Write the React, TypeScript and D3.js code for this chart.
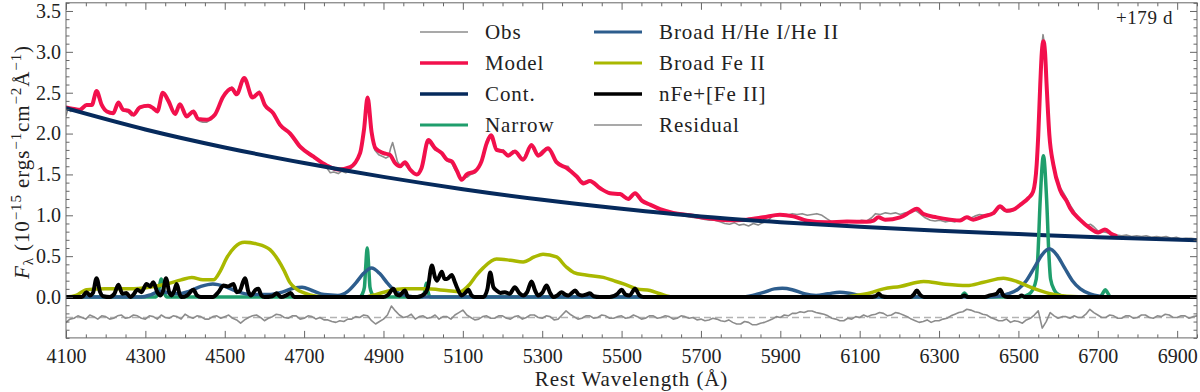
import React, { useEffect, useRef } from 'react';
import * as d3 from 'd3';

// [wavelength (A), flux (1e-15 erg/s/cm2/A)] pairs
const obs = [
  [4100, 2.22], [4105, 2.30], [4112, 2.27], [4120, 2.31], [4128, 2.28], [4135, 2.30], [4143, 2.33], [4152, 2.36], [4160, 2.34], [4168, 2.38],
  [4177, 2.50], [4185, 2.40], [4192, 2.33], [4200, 2.28], [4210, 2.26], [4219, 2.24], [4226, 2.31], [4232, 2.37], [4240, 2.30], [4248, 2.28],
  [4257, 2.26], [4265, 2.22], [4272, 2.24], [4280, 2.31], [4290, 2.33], [4300, 2.35], [4310, 2.33], [4320, 2.32], [4330, 2.26], [4337, 2.40],
  [4344, 2.49], [4352, 2.44], [4360, 2.36], [4368, 2.30], [4375, 2.25], [4382, 2.33], [4388, 2.36], [4396, 2.27], [4404, 2.20], [4412, 2.25],
  [4421, 2.28], [4428, 2.20], [4436, 2.15], [4445, 2.14], [4455, 2.14], [4465, 2.17], [4475, 2.23], [4486, 2.35], [4496, 2.45], [4505, 2.50],
  [4512, 2.54], [4518, 2.57], [4525, 2.49], [4532, 2.50], [4540, 2.62], [4549, 2.66], [4558, 2.58], [4565, 2.47], [4572, 2.45], [4580, 2.48],
  [4587, 2.52], [4594, 2.44], [4601, 2.36], [4610, 2.30], [4622, 2.24], [4630, 2.18], [4639, 2.09], [4648, 2.06], [4657, 2.03], [4665, 1.98],
  [4675, 1.92], [4690, 1.82], [4700, 1.79], [4712, 1.74], [4723, 1.71], [4735, 1.68], [4745, 1.62], [4757, 1.58], [4766, 1.52], [4775, 1.53],
  [4786, 1.51], [4795, 1.54], [4805, 1.52], [4816, 1.56], [4828, 1.62], [4841, 1.74], [4850, 2.00], [4856, 2.30], [4860, 2.45], [4864, 2.30],
  [4870, 1.98], [4878, 1.80], [4888, 1.74], [4898, 1.72], [4906, 1.70], [4913, 1.72], [4918, 1.82], [4923, 1.89], [4928, 1.80], [4935, 1.66],
  [4942, 1.61], [4950, 1.64], [4958, 1.60], [4967, 1.55], [4975, 1.51], [4984, 1.49], [4992, 1.54], [5000, 1.66], [5008, 1.85], [5013, 1.90],
  [5020, 1.86], [5030, 1.80], [5040, 1.78], [5047, 1.75], [5055, 1.69], [5062, 1.66], [5072, 1.64], [5080, 1.56], [5088, 1.50], [5097, 1.45],
  [5104, 1.46], [5112, 1.47], [5120, 1.50], [5131, 1.52], [5140, 1.58], [5147, 1.66], [5155, 1.80], [5162, 1.90], [5171, 1.97], [5178, 1.87],
  [5185, 1.79], [5194, 1.78], [5202, 1.80], [5210, 1.74], [5218, 1.75], [5226, 1.79], [5234, 1.76], [5243, 1.72], [5252, 1.69], [5262, 1.78],
  [5273, 1.85], [5282, 1.77], [5290, 1.74], [5300, 1.79], [5310, 1.82], [5320, 1.78], [5328, 1.72], [5336, 1.66], [5345, 1.63], [5355, 1.60],
  [5365, 1.60], [5375, 1.53], [5387, 1.48], [5396, 1.43], [5404, 1.41], [5412, 1.42], [5420, 1.42], [5433, 1.37], [5446, 1.34], [5458, 1.30],
  [5471, 1.28], [5484, 1.27], [5496, 1.25], [5507, 1.22], [5517, 1.21], [5526, 1.25], [5534, 1.26], [5543, 1.21], [5551, 1.17], [5560, 1.16],
  [5572, 1.12], [5585, 1.10], [5597, 1.07], [5610, 1.05], [5622, 1.04], [5635, 1.02], [5648, 1.01], [5660, 0.99], [5672, 0.98], [5685, 0.97],
  [5698, 0.96], [5710, 0.95], [5722, 0.94], [5735, 0.94], [5748, 0.92], [5760, 0.90], [5772, 0.89], [5784, 0.91], [5796, 0.88], [5808, 0.89],
  [5820, 0.87], [5832, 0.90], [5844, 0.88], [5856, 0.91], [5868, 0.93], [5880, 0.99], [5892, 1.00], [5905, 1.01], [5918, 1.00], [5930, 1.02],
  [5942, 1.01], [5955, 1.02], [5968, 1.00], [5980, 1.01], [5992, 1.02], [6005, 1.00], [6017, 0.96], [6030, 0.92], [6043, 0.91], [6056, 0.92],
  [6068, 0.91], [6080, 0.93], [6092, 0.92], [6105, 0.94], [6118, 0.93], [6130, 0.97], [6140, 1.02], [6152, 1.01], [6165, 1.03], [6178, 1.02],
  [6190, 1.03], [6202, 1.01], [6215, 1.03], [6227, 1.04], [6240, 1.06], [6252, 1.02], [6265, 0.97], [6278, 0.94], [6290, 0.93], [6302, 0.94],
  [6315, 0.92], [6328, 0.93], [6340, 0.92], [6353, 0.95], [6365, 0.98], [6378, 0.96], [6390, 0.99], [6402, 1.01], [6415, 1.00], [6428, 1.02],
  [6440, 1.02], [6452, 1.10], [6462, 1.06], [6472, 1.04], [6485, 1.05], [6496, 1.09], [6508, 1.13], [6520, 1.18], [6530, 1.24], [6538, 1.31],
  [6546, 1.63], [6550, 2.00], [6555, 2.65], [6559, 3.08], [6562, 3.21], [6566, 3.08], [6570, 2.65], [6577, 2.00], [6587, 1.65], [6596, 1.45],
  [6605, 1.34], [6614, 1.27], [6622, 1.20], [6632, 1.11], [6643, 1.03], [6655, 0.95], [6665, 0.90], [6675, 0.88], [6682, 0.89], [6690, 0.86],
  [6700, 0.81], [6712, 0.80], [6722, 0.79], [6735, 0.77], [6748, 0.76], [6760, 0.75], [6772, 0.76], [6785, 0.74], [6798, 0.75], [6810, 0.74],
  [6822, 0.75], [6835, 0.73], [6848, 0.74], [6860, 0.73], [6872, 0.74], [6885, 0.72], [6898, 0.73], [6910, 0.71], [6922, 0.72], [6935, 0.72],
  [6950, 0.71],
];

const model = [
  [4100, 2.32], [4120, 2.30], [4135, 2.29], [4152, 2.35], [4165, 2.35], [4177, 2.52], [4190, 2.35], [4203, 2.27], [4219, 2.25], [4232, 2.38],
  [4244, 2.29], [4257, 2.28], [4270, 2.23], [4286, 2.32], [4307, 2.34], [4320, 2.31], [4330, 2.27], [4344, 2.50], [4358, 2.40], [4375, 2.24],
  [4387, 2.36], [4404, 2.21], [4421, 2.27], [4433, 2.18], [4455, 2.17], [4475, 2.23], [4496, 2.45], [4518, 2.55], [4530, 2.48], [4549, 2.68],
  [4570, 2.44], [4587, 2.50], [4601, 2.35], [4622, 2.25], [4639, 2.11], [4665, 2.00], [4690, 1.84], [4723, 1.72], [4757, 1.61], [4786, 1.56],
  [4816, 1.59], [4841, 1.76], [4851, 2.05], [4860, 2.44], [4870, 2.02], [4880, 1.82], [4900, 1.76], [4916, 1.74], [4929, 1.64], [4942, 1.60],
  [4954, 1.65], [4967, 1.56], [4984, 1.50], [4996, 1.58], [5013, 1.92], [5030, 1.82], [5047, 1.76], [5060, 1.68], [5072, 1.66], [5085, 1.545],
  [5097, 1.435], [5110, 1.50], [5131, 1.54], [5147, 1.66], [5160, 1.88], [5171, 1.98], [5185, 1.80], [5202, 1.78], [5214, 1.73], [5231, 1.78],
  [5252, 1.68], [5273, 1.86], [5290, 1.73], [5315, 1.82], [5336, 1.65], [5361, 1.58], [5387, 1.475], [5404, 1.39], [5420, 1.42], [5446, 1.33],
  [5471, 1.27], [5496, 1.26], [5517, 1.20], [5534, 1.27], [5551, 1.18], [5572, 1.13], [5597, 1.075], [5630, 1.03], [5672, 1.00], [5714, 0.967],
  [5765, 0.94], [5815, 0.947], [5857, 0.975], [5899, 1.008], [5933, 0.987], [5967, 0.935], [6017, 0.914], [6068, 0.924], [6118, 0.92], [6135, 0.935],
  [6147, 0.975], [6164, 0.945], [6202, 0.975], [6227, 1.04], [6244, 1.08], [6261, 1.015], [6294, 0.975], [6328, 0.947], [6353, 0.935], [6370, 0.975],
  [6386, 0.947], [6412, 0.987], [6437, 1.027], [6454, 1.11], [6470, 1.056], [6487, 1.07], [6508, 1.14], [6525, 1.21], [6537, 1.29], [6546, 1.62],
  [6550, 1.98], [6555, 2.60], [6559, 3.00], [6563, 3.13], [6567, 3.00], [6571, 2.60], [6578, 1.98], [6588, 1.62], [6605, 1.31], [6622, 1.17],
  [6630, 1.09], [6655, 0.947], [6680, 0.845], [6701, 0.79], [6718, 0.825], [6735, 0.77], [6745, 0.75],
];

const cont = [
  [4100, 2.31], [4300, 2.05], [4500, 1.83], [4700, 1.64], [4900, 1.47], [5100, 1.32], [5300, 1.19], [5500, 1.08],
  [5700, 0.985], [5900, 0.915], [6100, 0.86], [6300, 0.81], [6500, 0.77], [6700, 0.73], [6950, 0.695],
];

const narrow = [
  [4100, 0], [4326, 0], [4333, 0.07], [4337, 0.17], [4340, 0.22], [4343, 0.17], [4347, 0.07], [4354, 0],
  [4840, 0], [4846, 0.03], [4852, 0.12], [4855, 0.35], [4859, 0.60], [4863, 0.35], [4866, 0.12], [4872, 0.03], [4878, 0],
  [4998, 0], [5004, 0.07], [5008, 0.17], [5012, 0.07], [5018, 0],
  [6355, 0], [6360, 0.03], [6364, 0.05], [6368, 0.03], [6373, 0],
  [6505, 0], [6525, 0.03], [6535, 0.08], [6545, 0.22], [6549, 0.5], [6555, 1.2], [6563, 1.73], [6571, 1.2], [6577, 0.5],
  [6581, 0.22], [6591, 0.08], [6601, 0.03], [6620, 0],
  [6706, 0], [6713, 0.05], [6719, 0.09], [6725, 0.05], [6732, 0], [6950, 0],
];

const broadH = [
  [4100, 0], [4290, 0], [4315, 0.03], [4337, 0.07], [4360, 0.05], [4385, 0.04], [4410, 0.07], [4440, 0.13], [4470, 0.16], [4500, 0.13],
  [4530, 0.07], [4570, 0.03], [4610, 0.03], [4645, 0.06], [4675, 0.11], [4695, 0.12], [4720, 0.08], [4750, 0.03], [4785, 0.02], [4810, 0.07],
  [4830, 0.17], [4850, 0.29], [4870, 0.355], [4890, 0.29], [4910, 0.17], [4930, 0.07], [4955, 0.02], [4990, 0],
  [5800, 0], [5830, 0.02], [5860, 0.06], [5885, 0.10], [5905, 0.107], [5930, 0.09], [5960, 0.04], [5990, 0.02], [6020, 0.04], [6050, 0.06],
  [6080, 0.04], [6110, 0.01], [6140, 0],
  [6420, 0], [6450, 0.01], [6475, 0.04], [6500, 0.10], [6520, 0.20], [6540, 0.36], [6560, 0.52], [6578, 0.59], [6596, 0.52], [6616, 0.36],
  [6636, 0.20], [6656, 0.10], [6680, 0.04], [6705, 0.01], [6730, 0], [6950, 0],
];

const broadFe = [
  [4100, 0], [4125, 0.02], [4152, 0.09], [4200, 0.10], [4260, 0.10], [4310, 0.12], [4354, 0.16], [4390, 0.21], [4417, 0.24], [4445, 0.21],
  [4471, 0.21], [4490, 0.33], [4504, 0.47], [4525, 0.61], [4550, 0.67], [4580, 0.65], [4614, 0.58], [4635, 0.45], [4650, 0.32], [4664, 0.18],
  [4680, 0.10], [4700, 0.05], [4730, 0.01], [4760, 0], [4850, 0], [4880, 0.03], [4910, 0.07], [4950, 0.10], [5005, 0.10], [5059, 0.08],
  [5093, 0.065], [5118, 0.16], [5135, 0.27], [5152, 0.36], [5185, 0.465], [5220, 0.45], [5252, 0.43], [5280, 0.49], [5302, 0.525], [5336, 0.49],
  [5360, 0.37], [5380, 0.30], [5410, 0.27], [5454, 0.24], [5480, 0.20], [5505, 0.16], [5538, 0.10], [5572, 0.08], [5597, 0.04], [5630, 0],
  [6060, 0], [6090, 0.02], [6126, 0.05], [6160, 0.10], [6202, 0.13], [6261, 0.19], [6311, 0.16], [6370, 0.14], [6412, 0.18], [6462, 0.23],
  [6496, 0.19], [6530, 0.12], [6580, 0.04], [6622, 0.01], [6680, 0], [6950, 0],
];

const nFe = [
  [4100, 0], [4140, 0], [4152, 0.06], [4160, 0.02], [4168, 0.05], [4177, 0.23], [4186, 0.06], [4194, 0.01], [4210, 0], [4222, 0.04],
  [4232, 0.15], [4242, 0.04], [4252, 0.05], [4262, 0], [4270, 0.03], [4280, 0.09], [4290, 0.06], [4303, 0.16], [4312, 0.13], [4320, 0.18],
  [4330, 0.06], [4338, 0.02], [4345, 0.08], [4352, 0.23], [4360, 0.06], [4366, 0.02], [4373, 0.08], [4379, 0.16], [4386, 0.04], [4391, 0],
  [4405, 0.02], [4421, 0.09], [4430, 0.02], [4440, 0], [4470, 0], [4484, 0.06], [4497, 0.14], [4508, 0.13], [4522, 0.16], [4530, 0.06],
  [4537, 0.07], [4551, 0.23], [4560, 0.06], [4566, 0.02], [4578, 0.09], [4585, 0.10], [4592, 0.02], [4600, 0], [4620, 0.01], [4631, 0.045],
  [4642, 0], [4655, 0.02], [4666, 0.05], [4675, 0], [4900, 0], [4910, 0.02], [4925, 0.10], [4933, 0.03], [4940, 0.02], [4954, 0.08],
  [4962, 0], [4985, 0], [5004, 0.04], [5012, 0.12], [5022, 0.385], [5030, 0.24], [5035, 0.20], [5047, 0.31], [5054, 0.22], [5060, 0.22],
  [5072, 0.27], [5080, 0.18], [5085, 0.12], [5097, 0.02], [5106, 0.05], [5114, 0.09], [5122, 0.02], [5130, 0], [5152, 0], [5162, 0.10],
  [5169, 0.30], [5177, 0.12], [5185, 0.08], [5195, 0.05], [5206, 0.06], [5218, 0.04], [5231, 0.12], [5242, 0.05], [5252, 0.02], [5262, 0.06],
  [5273, 0.19], [5282, 0.08], [5290, 0.02], [5300, 0.05], [5311, 0.14], [5320, 0.05], [5328, 0], [5338, 0.02], [5349, 0.06], [5358, 0.03],
  [5366, 0.02], [5375, 0.05], [5383, 0.08], [5392, 0.03], [5400, 0.02], [5410, 0.03], [5420, 0.045], [5430, 0.01], [5445, 0], [5470, 0],
  [5490, 0.04], [5500, 0.09], [5510, 0.03], [5520, 0.02], [5534, 0.10], [5545, 0.02], [5555, 0], [6125, 0], [6140, 0.01], [6148, 0.04],
  [6156, 0.01], [6170, 0], [6228, 0], [6236, 0.03], [6244, 0.08], [6252, 0.03], [6262, 0], [6355, 0], [6364, 0.02], [6372, 0],
  [6415, 0], [6428, 0.02], [6445, 0.04], [6454, 0.09], [6462, 0.02], [6472, 0], [6500, 0], [6508, 0.02], [6516, 0], [6950, 0],
];

// residual (obs - model), shifted down to sit under the spectrum; sampled every 10 A from 4100
const residStart = 4100;
const residStep = 10;
const residOffset = -0.25;
const resid = [
  -0.31, -0.27, -0.26, -0.23, -0.25, -0.27, -0.22, -0.24, -0.27, -0.23,
  -0.24, -0.27, -0.26, -0.23, -0.22, -0.26, -0.25, -0.22, -0.23, -0.26,
  -0.27, -0.23, -0.24, -0.27, -0.22, -0.25, -0.26, -0.23, -0.24, -0.27,
  -0.21, -0.24, -0.26, -0.23, -0.24, -0.27, -0.27, -0.24, -0.23, -0.26,
  -0.24, -0.22, -0.26, -0.28, -0.32, -0.28, -0.25, -0.23, -0.22, -0.25,
  -0.29, -0.26, -0.24, -0.21, -0.22, -0.25, -0.26, -0.23, -0.23, -0.27,
  -0.26, -0.23, -0.24, -0.27, -0.25, -0.28, -0.28, -0.30, -0.31, -0.29,
  -0.30, -0.27, -0.27, -0.24, -0.25, -0.22, -0.23, -0.29, -0.33, -0.30,
  -0.27, -0.22, -0.11, -0.17, -0.22, -0.25, -0.24, -0.21, -0.27, -0.24,
  -0.23, -0.26, -0.25, -0.22, -0.27, -0.24, -0.24, -0.27, -0.22, -0.19,
  -0.16, -0.22, -0.25, -0.28, -0.27, -0.24, -0.23, -0.26, -0.26, -0.23,
  -0.23, -0.26, -0.27, -0.24, -0.23, -0.27, -0.25, -0.22, -0.22, -0.25,
  -0.26, -0.23, -0.24, -0.28, -0.27, -0.22, -0.17, -0.21, -0.24, -0.27,
  -0.26, -0.23, -0.23, -0.26, -0.25, -0.22, -0.23, -0.26, -0.26, -0.24,
  -0.23, -0.26, -0.25, -0.22, -0.24, -0.27, -0.26, -0.23, -0.23, -0.26,
  -0.25, -0.23, -0.24, -0.27, -0.26, -0.23, -0.24, -0.26, -0.25, -0.28,
  -0.27, -0.29, -0.28, -0.26, -0.27, -0.29, -0.30, -0.28, -0.31, -0.33,
  -0.33, -0.30, -0.31, -0.34, -0.34, -0.32, -0.31, -0.29, -0.27, -0.24,
  -0.25, -0.22, -0.23, -0.20, -0.20, -0.18, -0.19, -0.17, -0.17, -0.19,
  -0.20, -0.21, -0.23, -0.26, -0.27, -0.29, -0.29, -0.26, -0.27, -0.24,
  -0.25, -0.22, -0.24, -0.22, -0.21, -0.19, -0.20, -0.23, -0.22, -0.19,
  -0.20, -0.22, -0.24, -0.27, -0.29, -0.31, -0.30, -0.28, -0.31, -0.29,
  -0.29, -0.27, -0.26, -0.23, -0.21, -0.19, -0.18, -0.15, -0.16, -0.18,
  -0.19, -0.21, -0.22, -0.25, -0.27, -0.29, -0.29, -0.27, -0.31, -0.29,
  -0.30, -0.32, -0.28, -0.26, -0.22, -0.17, -0.38, -0.30, -0.19, -0.23,
  -0.26, -0.24, -0.24, -0.26, -0.23, -0.25, -0.25, -0.21, -0.15, -0.19,
  -0.22, -0.25, -0.25, -0.22, -0.23, -0.26, -0.26, -0.23, -0.23, -0.26,
  -0.25, -0.22, -0.22, -0.25, -0.26, -0.23, -0.24, -0.21, -0.22, -0.25,
  -0.25, -0.23, -0.23, -0.26, -0.24, -0.23,
];

const xTicks = [4100, 4300, 4500, 4700, 4900, 5100, 5300, 5500, 5700, 5900, 6100, 6300, 6500, 6700, 6900];
const yTicks = [0, 0.5, 1.0, 1.5, 2.0, 2.5, 3.0, 3.5];

const legendLeft = ['Obs', 'Model', 'Cont.', 'Narrow'];
const legendRight = ['Broad H/He I/He II', 'Broad Fe II', 'nFe+[Fe II]', 'Residual'];

const styles = {
  'Obs': { color: '#8c8c8c', width: 1.6 },
  'Model': { color: '#f2104c', width: 4 },
  'Cont.': { color: '#062a5c', width: 4 },
  'Narrow': { color: '#1f9e6c', width: 3.5 },
  'Broad H/He I/He II': { color: '#2d5d8d', width: 3.5 },
  'Broad Fe II': { color: '#a9b800', width: 3.5 },
  'nFe+[Fe II]': { color: '#000000', width: 4 },
  'Residual': { color: '#8c8c8c', width: 1.6 },
};

const FONT = '"Liberation Serif", "DejaVu Serif", serif';

export default function App() {
  const svgRef = useRef(null);

  useEffect(() => {
    const width = 1200;
    const height = 392;
    const left = 66, right = 1197, top = 2.8, bottom = 337.9;
    const svg = d3.select(svgRef.current);
    svg.selectAll('*').remove();

    const x = d3.scaleLinear().domain([4100, 6950]).range([left, right]);
    const y = d3.scaleLinear().domain([-0.5, 3.6]).range([bottom, top]);

    svg.append('clipPath').attr('id', 'plotclip')
      .append('rect')
      .attr('x', left).attr('y', top)
      .attr('width', right - left).attr('height', bottom - top);

    const plot = svg.append('g').attr('clip-path', 'url(#plotclip)');

    const smooth = d3.line().x(d => x(d[0])).y(d => y(d[1])).curve(d3.curveMonotoneX);
    const jagged = d3.line().x(d => x(d[0])).y(d => y(d[1]));

    // residual zero line
    plot.append('line')
      .attr('x1', x(4100)).attr('x2', x(6950))
      .attr('y1', y(residOffset)).attr('y2', y(residOffset))
      .attr('stroke', '#b3b3b3').attr('stroke-width', 1.4)
      .attr('stroke-dasharray', '7,4');

    const residPts = resid.map((v, i) => [residStart + i * residStep, v]);

    const series = [
      ['Obs', obs, jagged],
      ['Model', model, smooth],
      ['Cont.', cont, smooth],
      ['Narrow', narrow, smooth],
      ['Broad H/He I/He II', broadH, smooth],
      ['Broad Fe II', broadFe, smooth],
      ['nFe+[Fe II]', nFe, smooth],
      ['Residual', residPts, jagged],
    ];

    series.forEach(([name, data, gen]) => {
      plot.append('path')
        .attr('d', gen(data))
        .attr('fill', 'none')
        .attr('stroke', styles[name].color)
        .attr('stroke-width', styles[name].width)
        .attr('stroke-linejoin', 'round')
        .attr('stroke-linecap', 'round');
    });

    // axes: inward ticks on all four sides
    const xMinor = d3.range(4100, 6951, 50).filter(v => !xTicks.includes(v));
    const yMinor = d3.range(-5, 37).map(v => v / 10).filter(v => !yTicks.includes(v));

    const tickColor = '#555';
    const styleAxis = g => {
      g.select('.domain').remove();
      g.selectAll('line').attr('stroke', tickColor).attr('stroke-width', 0.9);
      g.selectAll('text').attr('font-family', FONT).attr('font-size', 20).attr('fill', '#222');
    };

    svg.append('g').attr('transform', `translate(0,${bottom})`)
      .call(d3.axisBottom(x).tickValues(xTicks).tickSize(-7).tickPadding(11).tickFormat(d3.format('d')))
      .call(styleAxis);
    svg.append('g').attr('transform', `translate(0,${bottom})`)
      .call(d3.axisBottom(x).tickValues(xMinor).tickSize(-3.5).tickFormat(''))
      .call(styleAxis);
    svg.append('g').attr('transform', `translate(0,${top})`)
      .call(d3.axisTop(x).tickValues(xTicks).tickSize(-7).tickFormat(''))
      .call(styleAxis);
    svg.append('g').attr('transform', `translate(0,${top})`)
      .call(d3.axisTop(x).tickValues(xMinor).tickSize(-3.5).tickFormat(''))
      .call(styleAxis);

    svg.append('g').attr('transform', `translate(${left},0)`)
      .call(d3.axisLeft(y).tickValues(yTicks).tickSize(-7).tickPadding(5).tickFormat(d3.format('.1f')))
      .call(styleAxis);
    svg.append('g').attr('transform', `translate(${left},0)`)
      .call(d3.axisLeft(y).tickValues(yMinor).tickSize(-3.5).tickFormat(''))
      .call(styleAxis);
    svg.append('g').attr('transform', `translate(${right},0)`)
      .call(d3.axisRight(y).tickValues(yTicks).tickSize(-7).tickFormat(''))
      .call(styleAxis);
    svg.append('g').attr('transform', `translate(${right},0)`)
      .call(d3.axisRight(y).tickValues(yMinor).tickSize(-3.5).tickFormat(''))
      .call(styleAxis);

    svg.append('rect')
      .attr('x', left).attr('y', top)
      .attr('width', right - left).attr('height', bottom - top)
      .attr('fill', 'none').attr('stroke', '#666').attr('stroke-width', 1);

    // axis labels
    svg.append('text')
      .attr('x', (left + right) / 2).attr('y', 386)
      .attr('text-anchor', 'middle')
      .attr('font-family', FONT).attr('font-size', 21).attr('letter-spacing', 0.9).attr('fill', '#222')
      .text('Rest Wavelength (Å)');

    const yl = svg.append('text')
      .attr('transform', 'translate(29,162) rotate(-90)')
      .attr('text-anchor', 'middle')
      .attr('font-family', FONT).attr('font-size', 21).attr('letter-spacing', 0.9).attr('fill', '#222');
    const parts = [
      ['F', 0, 21, 'italic'], ['λ', 4, 15], [' (10', -4, 21], ['−15', -8, 15], [' ergs', 8, 21],
      ['−1', -8, 15], ['cm', 8, 21], ['−2', -8, 15], ['Å', 8, 21], ['−1', -8, 15], [')', 8, 21],
    ];
    parts.forEach(([t, dy, fs, st]) => {
      yl.append('tspan').attr('dy', dy).attr('font-size', fs)
        .attr('font-style', st || 'normal').text(t);
    });

    // legend
    const rowY = [32, 63, 94, 125];
    const cols = [
      { names: legendLeft, x0: 420, x1: 468, tx: 485 },
      { names: legendRight, x0: 594, x1: 642, tx: 659 },
    ];
    cols.forEach(c => {
      c.names.forEach((name, i) => {
        svg.append('line')
          .attr('x1', c.x0).attr('x2', c.x1)
          .attr('y1', rowY[i]).attr('y2', rowY[i])
          .attr('stroke', styles[name].color)
          .attr('stroke-width', Math.max(styles[name].width - 0.5, 1.5));
        svg.append('text')
          .attr('x', c.tx).attr('y', rowY[i] + 7)
          .attr('font-family', FONT).attr('font-size', 21).attr('letter-spacing', 0.9).attr('fill', '#222')
          .text(name);
      });
    });

    svg.append('text')
      .attr('x', 1173).attr('y', 24)
      .attr('text-anchor', 'end')
      .attr('font-family', FONT).attr('font-size', 19).attr('letter-spacing', 0.6).attr('fill', '#222')
      .text('+179 d');

    svg.attr('width', width).attr('height', height);
  }, []);

  return (
    <svg ref={svgRef} width={1200} height={392}
      style={{ position: 'absolute', left: 0, top: 0, background: '#fff' }} />
  );
}
